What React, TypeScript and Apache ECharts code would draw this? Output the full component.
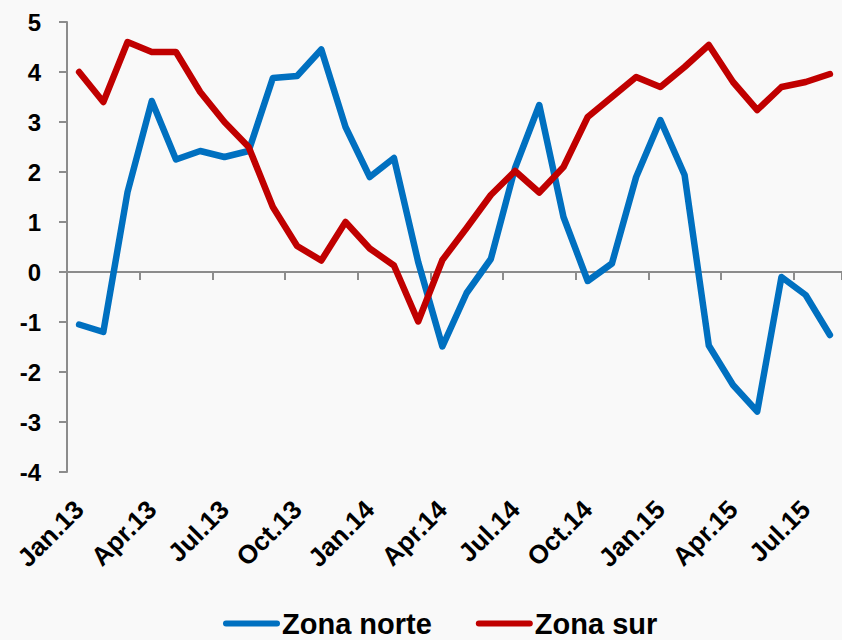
import React, { useEffect, useRef } from "react";
import * as echarts from "echarts";

const categories: string[] = [
  "Jan.13", "Feb.13", "Mar.13", "Apr.13", "May.13", "Jun.13", "Jul.13", "Aug.13", "Sep.13", "Oct.13", "Nov.13", "Dec.13",
  "Jan.14", "Feb.14", "Mar.14", "Apr.14", "May.14", "Jun.14", "Jul.14", "Aug.14", "Sep.14", "Oct.14", "Nov.14", "Dec.14",
  "Jan.15", "Feb.15", "Mar.15", "Apr.15", "May.15", "Jun.15", "Jul.15", "Aug.15",
];

const zonaNorte: number[] = [
  -1.05, -1.2, 1.6, 3.42, 2.25, 2.42, 2.3, 2.42, 3.88, 3.92, 4.45, 2.9,
  1.9, 2.28, 0.2, -1.49, -0.42, 0.26, 2.08, 3.34, 1.1, -0.18, 0.17, 1.9,
  3.04, 1.94, -1.47, -2.26, -2.79, -0.1, -0.46, -1.26,
];
const zonaSur: number[] = [
  4.0, 3.4, 4.6, 4.4, 4.4, 3.6, 3.0, 2.5, 1.3, 0.52, 0.23, 1.0,
  0.47, 0.13, -0.99, 0.24, 0.88, 1.54, 2.02, 1.59, 2.1, 3.1, 3.5, 3.9,
  3.7, 4.1, 4.54, 3.8, 3.24, 3.7, 3.8, 3.96,
];

const seriesNames = ["Zona norte", "Zona sur"];
const yMin = -4;
const yMax = 5;

const FONT = "'Liberation Sans', Arial, sans-serif";

export default function App() {
  const ref = useRef<HTMLDivElement>(null);
  useEffect(() => {
    document.body.style.margin = "0";
    if (!ref.current) return;
    const chart = echarts.init(ref.current, null, { renderer: "svg" });
    const legendIcon = "path://M3,0 L54,0 A3,3 0 0 1 54,6 L3,6 A3,3 0 0 1 3,0 Z";
    chart.setOption({
      animation: false,
      backgroundColor: "#f9f9f9",
      grid: { left: 67, top: 22, right: -2, bottom: 168, containLabel: false },
      legend: {
        data: seriesNames,
        left: 223,
        top: 609,
        padding: 0,
        itemWidth: 57,
        itemHeight: 7,
        itemGap: 44,
        icon: legendIcon,
        textStyle: { fontFamily: FONT, fontWeight: "bold", fontSize: 29, color: "#000", padding: [0, 0, 0, -3] },
      },
      xAxis: [
        {
          type: "category",
          data: categories,
          boundaryGap: true,
          position: "bottom",
          axisLine: { onZero: false, show: false },
          axisTick: { show: false },
          axisLabel: {
            interval: 2,
            rotate: 45,
            margin: 33,
            fontFamily: FONT,
            fontWeight: "bold",
            fontSize: 26,
            color: "#000",
          },
          splitLine: { show: false },
        },
        {
          type: "category",
          data: categories,
          boundaryGap: true,
          position: "bottom",
          axisLine: { onZero: true, show: true, lineStyle: { color: "#8c8c8c", width: 2 } },
          axisTick: { show: true, interval: 2, length: 8, inside: false, lineStyle: { color: "#8c8c8c", width: 2 } },
          axisLabel: { show: false },
          splitLine: { show: false },
        },
      ],
      yAxis: {
        type: "value",
        min: yMin,
        max: yMax,
        interval: 1,
        axisLine: { show: true, lineStyle: { color: "#8c8c8c", width: 2 } },
        axisTick: { show: true, length: 8, inside: false, lineStyle: { color: "#8c8c8c", width: 2 } },
        axisLabel: { margin: 26, fontFamily: FONT, fontWeight: "bold", fontSize: 24, color: "#000" },
        splitLine: { show: false },
      },
      series: [
        {
          name: seriesNames[0],
          type: "line",
          xAxisIndex: 0,
          data: zonaNorte,
          showSymbol: false,
          symbol: "none",
          color: "#0070C0",
          lineStyle: { width: 6.5, color: "#0070C0", cap: "round", join: "round" },
          z: 3,
        },
        {
          name: seriesNames[1],
          type: "line",
          xAxisIndex: 0,
          data: zonaSur,
          showSymbol: false,
          symbol: "none",
          color: "#C00000",
          lineStyle: { width: 6.5, color: "#C00000", cap: "round", join: "round" },
          z: 4,
        },
      ],
    });
    return () => chart.dispose();
  }, []);
  return <div ref={ref} style={{ width: 842, height: 640 }} />;
}
